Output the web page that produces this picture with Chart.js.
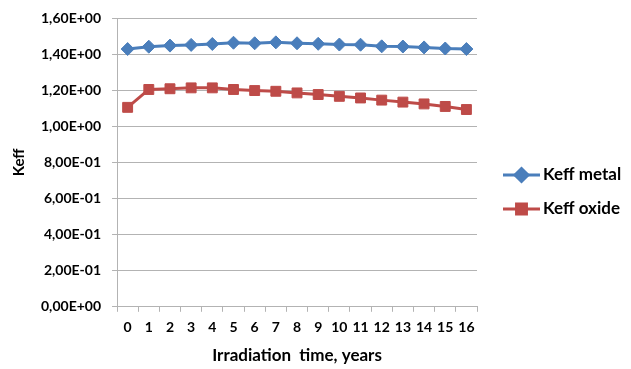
<!DOCTYPE html>
<html>
<head>
<meta charset="utf-8">
<script src="https://cdn.jsdelivr.net/npm/chart.js@4.4.1/dist/chart.umd.min.js"></script>
<style>
  html, body { margin: 0; padding: 0; background: #fff; }
  #wrap { width: 631px; height: 369px; }
</style>
</head>
<body>
<div id="wrap"><canvas id="c"></canvas></div>
<script>
// Keff vs temps d'irradiation — métal vs oxyde
const YEARS = ['0', '1', '2', '3', '4', '5', '6', '7', '8', '9', '10', '11', '12', '13', '14', '15', '16'];
const KEFF_METAL = [1.428, 1.441, 1.447, 1.451, 1.456, 1.463, 1.460, 1.465, 1.460, 1.457, 1.453, 1.452, 1.443, 1.442, 1.437, 1.431, 1.428];
const KEFF_OXIDE = [1.105, 1.204, 1.208, 1.213, 1.213, 1.204, 1.198, 1.194, 1.185, 1.176, 1.166, 1.157, 1.145, 1.134, 1.124, 1.110, 1.093];
const Y_TICK_LABELS = ['0,00E+00', '2,00E-01', '4,00E-01', '6,00E-01', '8,00E-01', '1,00E+00', '1,20E+00', '1,40E+00', '1,60E+00'];

const BLUE = '#4a7ebb';
const RED  = '#be4b48';
const GRID = '#b3b3b3';
const FONT = 'Lato, "Open Sans", sans-serif';

// Légende à droite : trait + marqueur, comme Excel
const sideLegend = {
  id: 'sideLegend',
  afterDraw(chart) {
    const { ctx, chartArea } = chart;
    const x0 = chartArea.right + 26;
    let y = 175;
    chart.data.datasets.forEach((ds) => {
      ctx.save();
      ctx.strokeStyle = ds.borderColor;
      ctx.lineWidth = 3;
      ctx.beginPath();
      ctx.moveTo(x0, y);
      ctx.lineTo(x0 + 37, y);
      ctx.stroke();
      Chart.helpers.drawPoint(ctx, {
        pointStyle: ds.pointStyle,
        radius: ds.pointRadius,
        borderWidth: 1,
      }, x0 + 18.5, y);
      ctx.fillStyle = ds.backgroundColor;
      ctx.fill();
      ctx.fillStyle = '#000';
      ctx.font = 'bold 17px ' + FONT;
      ctx.textBaseline = 'middle';
      ctx.fillText(ds.label, x0 + 40, y);
      ctx.restore();
      y += 34;
    });
  },
};

new Chart(document.getElementById('c'), {
  type: 'line',
  data: {
    labels: YEARS,
    datasets: [
      {
        label: 'Keff metal',
        data: KEFF_METAL,
        borderColor: BLUE,
        backgroundColor: BLUE,
        borderWidth: 3,
        pointStyle: 'rectRot',
        pointRadius: 6.5,
        pointBorderWidth: 1,
        pointBorderColor: BLUE,
        pointBackgroundColor: BLUE,
      },
      {
        label: 'Keff oxide',
        data: KEFF_OXIDE,
        borderColor: RED,
        backgroundColor: RED,
        borderWidth: 3,
        pointStyle: 'rect',
        pointRadius: 7,
        pointBorderWidth: 1,
        pointBorderColor: RED,
        pointBackgroundColor: RED,
      },
    ],
  },
  options: {
    responsive: true,
    maintainAspectRatio: false,
    animation: false,
    layout: { padding: { left: 8, right: 154, top: 0, bottom: 1 } },
    plugins: {
      legend: { display: false },
      tooltip: { enabled: false },
    },
    scales: {
      x: {
        offset: true,
        grid: { display: true, drawOnChartArea: false, offset: true, tickLength: 5, color: GRID },
        border: { color: GRID },
        ticks: { color: '#000', font: { family: FONT, size: 14, weight: 'bold' }, padding: 7, maxRotation: 0, autoSkip: false },
        title: { display: true, text: 'Irradiation  time, years', color: '#000', font: { family: FONT, size: 17, weight: 'bold' }, padding: { top: 3, bottom: 2 } },
      },
      y: {
        min: 0,
        max: 1.6,
        ticks: {
          stepSize: 0.2,
          color: '#000',
          padding: 11,
          font: { family: FONT, size: 14, weight: 'bold', lineHeight: 1 },
          callback: (v, i) => Y_TICK_LABELS[i],
        },
        grid: { color: GRID, tickLength: 5 },
        border: { color: GRID },
        title: { display: true, text: 'Keff', color: '#000', font: { family: FONT, size: 15, weight: 'bold' }, padding: { top: 2, bottom: 2 } },
      },
    },
  },
  plugins: [sideLegend],
});
</script>
</body>
</html>
